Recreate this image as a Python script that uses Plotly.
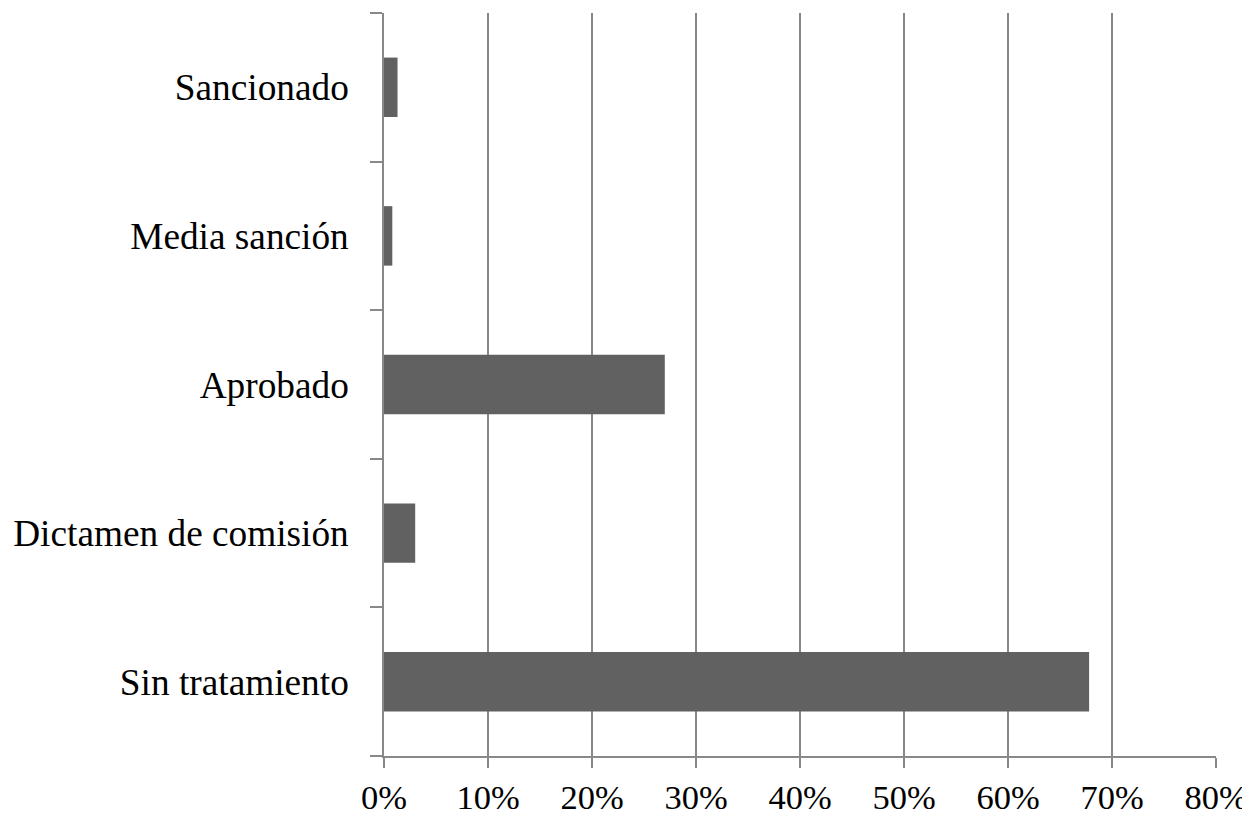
import plotly.graph_objects as go

categories = ["Sin tratamiento", "Dictamen de comisión", "Aprobado", "Media sanción", "Sancionado"]
values = [0.678, 0.030, 0.270, 0.008, 0.013]
x_ticks = [0, 0.1, 0.2, 0.3, 0.4, 0.5, 0.6, 0.7, 0.8]
x_tick_labels = ["0%", "10%", "20%", "30%", "40%", "50%", "60%", "70%", "80%"]

fig = go.Figure(
    go.Bar(
        x=values,
        y=categories,
        orientation="h",
        width=0.4,
        marker=dict(color="#616161", line=dict(width=0)),
    )
)

# page has a default 8px body margin, so the figure is sized/offset to compensate
fig.update_layout(
    width=1242,
    height=807,
    margin=dict(l=376, r=34, t=5, b=59),
    paper_bgcolor="white",
    plot_bgcolor="white",
    showlegend=False,
    font=dict(family="Liberation Serif, Times New Roman, serif", color="black"),
)

fig.update_xaxes(
    range=[0, 0.8],
    tickvals=x_ticks,
    ticktext=x_tick_labels,
    showgrid=True,
    gridcolor="#888888",
    gridwidth=1.5,
    showline=True,
    linecolor="#888888",
    linewidth=1.5,
    ticks="outside",
    ticklen=10,
    tickcolor="#888888",
    tickwidth=1.5,
    tickfont=dict(size=34.5, color="black"),
    zeroline=False,
    automargin=False,
    fixedrange=True,
)

fig.update_yaxes(
    categoryorder="array",
    categoryarray=categories,
    range=[-0.5, 4.5],
    showgrid=False,
    showline=True,
    linecolor="#888888",
    linewidth=1.5,
    ticks="outside",
    tickson="boundaries",
    ticklen=12,
    tickcolor="#888888",
    tickwidth=1.5,
    tickfont=dict(size=37.3, color="black"),
    ticklabelstandoff=26,
    automargin=False,
    fixedrange=True,
)

fig.write_html("out.html")
